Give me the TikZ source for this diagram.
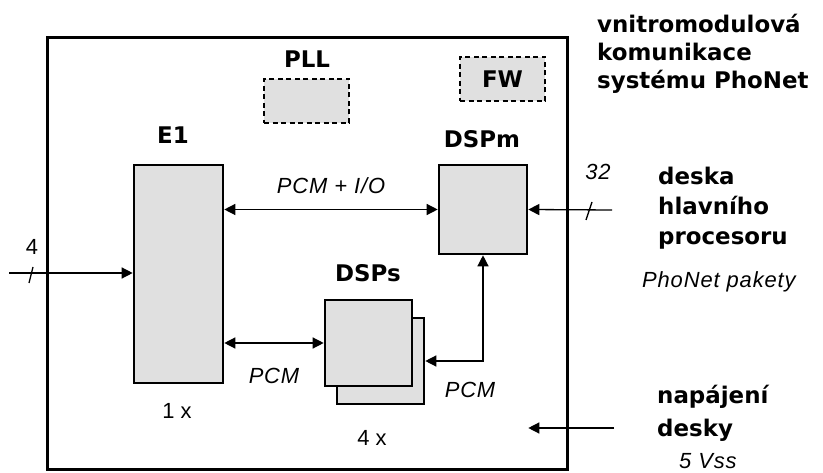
\documentclass[tikz,border=0pt]{standalone}
\usepackage{fontspec}
\setmainfont{Liberation Sans}
\newfontfamily\headfont{DejaVu Sans Bold}
\newfontfamily\itfont[LetterSpace=4]{Liberation Sans Italic}
\usetikzlibrary{arrows.meta}
\definecolor{boxgray}{RGB}{224,224,224}
\tikzset{
    block/.style={rectangle, draw=black, line width=2.6bp, fill=boxgray, inner sep=0pt},
    dashblock/.style={rectangle, draw=black, line width=1.4bp, dash pattern=on 5bp off 3.5bp, fill=boxgray, inner sep=0pt},
    head/.style={font=\headfont\fontsize{23}{27}\selectfont, inner sep=0pt},
    itlabel/.style={font=\itfont\fontsize{22}{26}\selectfont, inner sep=0pt},
    numlabel/.style={font=\fontsize{22}{26}\selectfont, inner sep=0pt},
    wire/.style={line width=1.3bp},
    arrow/.style={wire, -{Triangle[length=11bp,width=11bp]}},
    dblarrow/.style={wire, {Triangle[length=11bp,width=11bp]}-{Triangle[length=11bp,width=11bp]}}
}

\begin{document}
\begin{tikzpicture}[x=1bp, y=-1bp]
    \useasboundingbox (0,0) rectangle (823,473);

    % board and blocks
    \node (board) [rectangle, draw=black, line width=3bp, minimum width=519bp, minimum height=431bp] at (307.5,253.5) {};
    \node (pll) [dashblock, minimum width=85bp, minimum height=44bp] at (306.5,101) {};
    \node (fw) [dashblock, minimum width=85bp, minimum height=44bp, head] at (502.5,79) {FW};
    \node (e1) [block, minimum width=89bp, minimum height=218bp] at (178.5,274) {};
    \node (dspm) [block, minimum width=88bp, minimum height=89bp] at (483,209.5) {};
    \node (dspsback) [block, minimum width=87bp, minimum height=86bp] at (380.5,361) {};
    \node (dsps) [block, minimum width=87bp, minimum height=86bp] at (368.5,343) {};

    % block titles
    \node (pll_lbl) [head, anchor=base] at (307,68) {PLL};
    \node (e1_lbl) [head, anchor=base] at (173,144) {E1};
    \node (dspm_lbl) [head, anchor=base] at (482,148) {DSPm};
    \node (dsps_lbl) [head, anchor=base] at (368,282) {DSPs};
    \node (e1_cnt) [numlabel, anchor=base] at (177,418) {1 x};
    \node (dsps_cnt) [numlabel, anchor=base] at (372,445) {4 x};

    % outside texts
    \node (t_vnitro) [head, anchor=base west] at (597,33) {vnitromodulová};
    \node (t_komun) [head, anchor=base west] at (597,61) {komunikace};
    \node (t_system) [head, anchor=base west] at (597,89) {systému PhoNet};
    \node (t_deska) [head, anchor=base west] at (658,185) {deska};
    \node (t_hlavni) [head, anchor=base west] at (658,215) {hlavního};
    \node (t_proc) [head, anchor=base west] at (658,245) {procesoru};
    \node (t_pakety) [itlabel, anchor=base west] at (642,288) {PhoNet pakety};
    \node (t_napajeni) [head, anchor=base west] at (657,403) {napájení};
    \node (t_desky) [head, anchor=base west] at (657,436) {desky};
    \node (t_vss) [itlabel, anchor=base west] at (679,468) {5 Vss};

    % free ends
    \coordinate (in4) at (9,273);
    \coordinate (in32) at (612,210);
    \coordinate (pwr) at (614,428);

    % connections
    \draw [dblarrow] (dspm.west -| e1.east) -- node[itlabel, anchor=base, yshift=16bp] {PCM + I/O} (dspm.west);
    \draw [dblarrow] (dsps.west -| e1.east) -- node[itlabel, anchor=base, yshift=-40bp] {PCM} (dsps.west);
    \draw [dblarrow] (dspsback.east) -| (dspm.south);
    \node (pcm_r) [itlabel, anchor=base] at (470,397) {PCM};
    \draw [arrow] (in4) -- (in4 -| e1.west);
    \draw [wire] (29,283) -- (33,267);
    \node (n4) [numlabel, anchor=base] at (32,255) {4};
    \draw [arrow] (in32) -- (dspm.east);
    \draw [wire] (586,220) -- (592,202);
    \node (n32) [itlabel, anchor=base] at (598,180) {32};
    \draw [arrow] (pwr) -- (dspm.east |- pwr);
\end{tikzpicture}
\end{document}
